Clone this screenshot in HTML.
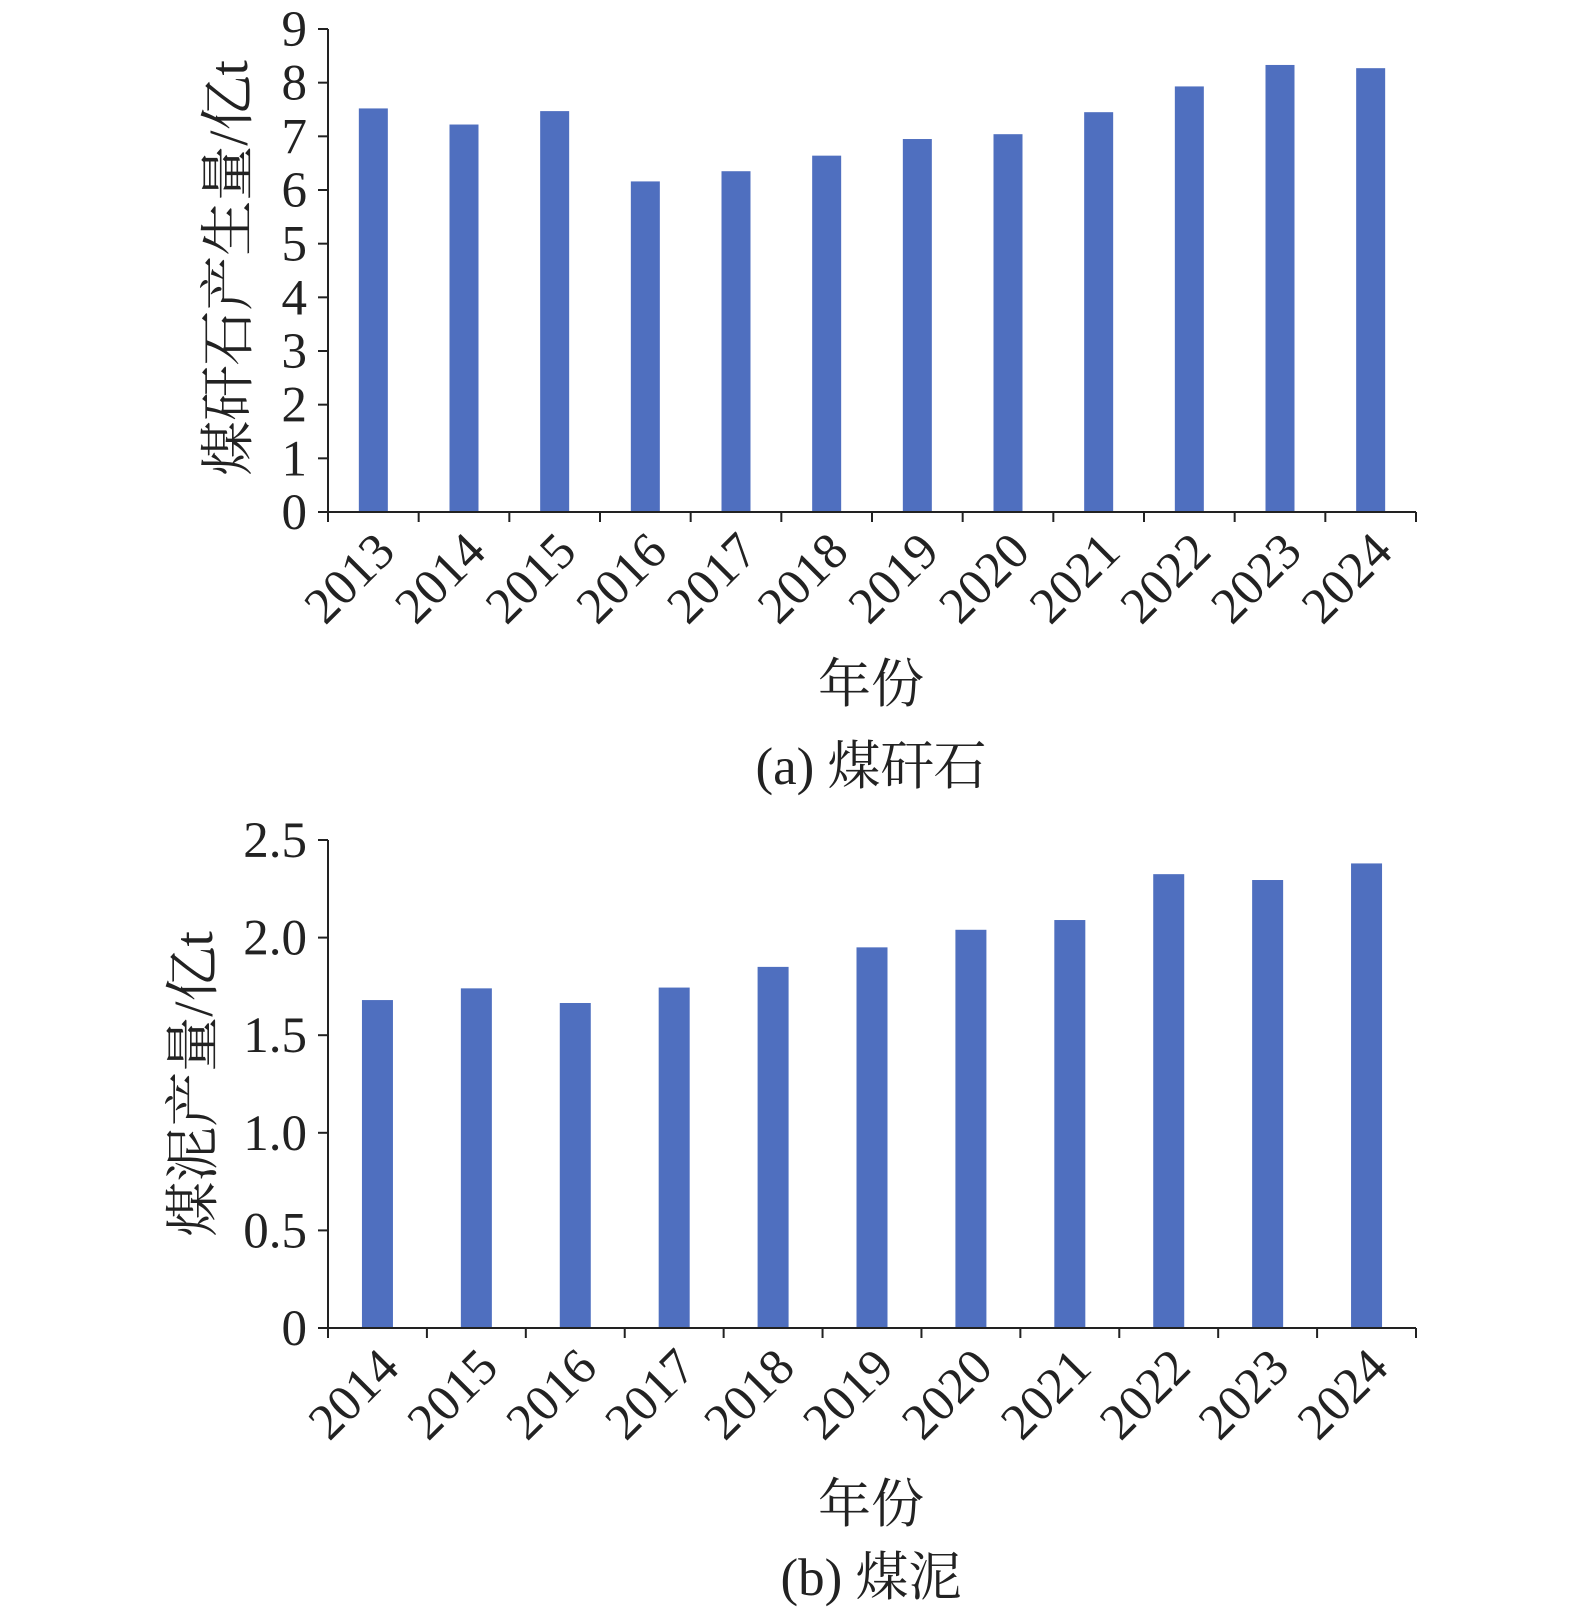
<!DOCTYPE html>
<html><head><meta charset="utf-8"><style>
body{margin:0;background:#fff}
svg text{font-family:"Liberation Serif","Noto Serif CJK SC",serif;fill:#222}
</style></head><body>
<svg width="1575" height="1607" viewBox="0 0 1575 1607" id="svg"></svg>
<script>
const catsA=["2013","2014","2015","2016","2017","2018","2019","2020","2021","2022","2023","2024"];
const valsA=[7.52,7.22,7.47,6.16,6.35,6.64,6.95,7.04,7.45,7.93,8.33,8.27];
const ticksA=[0,1,2,3,4,5,6,7,8,9];
const tickLabelsA=["0","1","2","3","4","5","6","7","8","9"];
const catsB=["2014","2015","2016","2017","2018","2019","2020","2021","2022","2023","2024"];
const valsB=[1.68,1.74,1.665,1.744,1.85,1.95,2.04,2.09,2.325,2.295,2.38];
const ticksB=[0,0.5,1,1.5,2,2.5];
const tickLabelsB=["0","0.5","1.0","1.5","2.0","2.5"];
const NS="http://www.w3.org/2000/svg";
const svg=document.getElementById('svg');
function mk(tag,attrs,parent,text){const e=document.createElementNS(NS,tag);for(const k in attrs)e.setAttribute(k,attrs[k]);if(text!==undefined)e.textContent=text;(parent||svg).appendChild(e);return e;}
function chart(o){
  const g=mk('g',{});
  
  
  const x0=328,x1=1416,n=o.cats.length,bw=(x1-x0)/n;
  const y=v=>o.yb-(v-o.min)/(o.max-o.min)*(o.yb-o.yt);
  o.vals.forEach((v,i)=>{
    const cx=x0+bw*(i+0.5);
    const r=mk('rect',{x:cx-o.barW/2,y:y(v),width:o.barW,height:o.yb-y(v),fill:'#4f6fbf'},g);
    
    
    const t=mk('text',{x:0,y:0,'font-size':51,'text-anchor':'end',transform:`translate(${cx+24},${o.yb+42}) rotate(-45)`},g,o.cats[i]);
    
    
  });
  for(let i=0;i<=n;i++){const x=x0+bw*i;mk('line',{x1:x,x2:x,y1:o.yb,y2:o.yb+10,stroke:'#222','stroke-width':2},g);}
  o.ticks.forEach((v,i)=>{
    mk('line',{x1:x0-10,x2:x0,y1:y(v),y2:y(v),stroke:'#222','stroke-width':2},g);
    const t=mk('text',{x:307,y:y(v)+17,'font-size':51,'text-anchor':'end'},g,o.tickLabels[i]);
    
    
  });
  const ya=mk('line',{x1:x0,x2:x0,y1:o.yt,y2:o.yb,stroke:'#222','stroke-width':2},g);
  
  const xa=mk('line',{x1:x0,x2:x1,y1:o.yb,y2:o.yb,stroke:'#222','stroke-width':2},g);
  
  const yt=mk('text',{x:0,y:0,'font-size':55,'text-anchor':'middle',transform:`translate(${o.ylx},${o.yly}) rotate(-90)`},g,o.ylabel);
  
  const xt=mk('text',{x:871,y:o.xty,'font-size':53,'text-anchor':'middle'},g,'年份');
  
  const ct=mk('text',{x:871,y:o.cty,'font-size':53,'text-anchor':'middle'},g,o.caption);
  
}
chart({name:'chart-a-coal-gangue',cats:catsA,vals:valsA,ticks:ticksA,tickLabels:tickLabelsA,min:0,max:9,yt:29,yb:512,barW:29,ylabel:'煤矸石产生量/亿t',ylx:247,yly:268,xty:702,cty:784,caption:'(a) 煤矸石'});
chart({name:'chart-b-coal-slime',cats:catsB,vals:valsB,ticks:ticksB,tickLabels:tickLabelsB,min:0,max:2.5,yt:840,yb:1328,barW:31,ylabel:'煤泥产量/亿t',ylx:212,yly:1084,xty:1522,cty:1595,caption:'(b) 煤泥'});
</script>
</body></html>
